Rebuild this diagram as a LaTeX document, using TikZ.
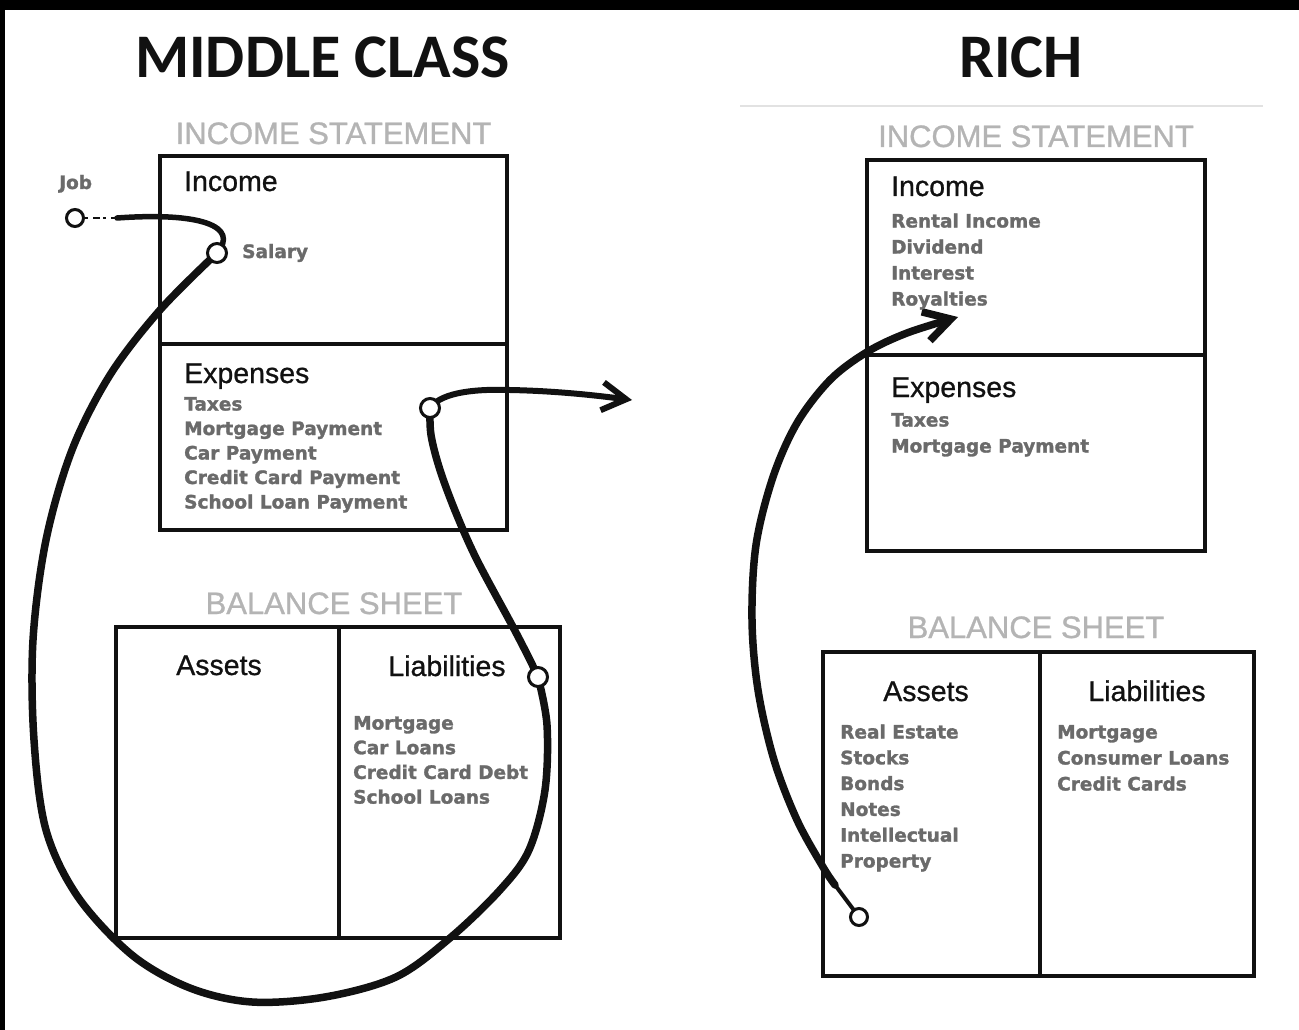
\documentclass[tikz,border=0pt]{standalone}
\usepackage{fontspec}
\setmainfont{Liberation Sans}
\newfontfamily\titlefont{Carlito}
\newfontfamily\itemfont[FakeBold=1.5]{DejaVu Sans Bold}
\newfontfamily\headfont[FakeBold=0.8]{Liberation Sans}
\newfontfamily\sheetfont[FakeBold=0.9]{Liberation Sans}
\usetikzlibrary{arrows.meta}
\definecolor{itemgray}{HTML}{6A6A6A}
\definecolor{headgray}{HTML}{B4B4B4}
\definecolor{rulegray}{HTML}{E2E2E2}
\definecolor{ink}{HTML}{111111}
\pgfdeclarelayer{bg}
\pgfsetlayers{bg,main}
\begin{document}
\begin{tikzpicture}[x=1pt,y=-1pt,
  box/.style={draw=ink, line width=3.5pt, rectangle, inner sep=0pt, outer sep=0pt},
  circ/.style={draw=ink, fill=white, circle, line width=3pt, minimum size=19pt, inner sep=0pt},
  bigtitle/.style={font=\titlefont\bfseries\fontsize{62}{62}\selectfont, text=ink, anchor=base, inner sep=0pt},
  sheet/.style={font=\sheetfont\fontsize{31}{31}\selectfont, text=headgray, anchor=base, inner sep=0pt},
  head/.style={font=\headfont\fontsize{28.5}{28.5}\selectfont, text=ink, inner sep=0pt},
  item/.style={font=\itemfont\fontsize{18.5}{18.5}\selectfont, text=itemgray, anchor=base west, inner sep=0pt},
  flow/.style={draw=ink, line width=7.5pt, line cap=round, line join=round}]
\useasboundingbox (0,0) rectangle (1299,1030);

% titles
\node[bigtitle] (tmid) at (322.5,78) {MIDDLE CLASS};
\node[bigtitle] (trich) at (1021,78) {RICH};
\draw[rulegray, line width=1.5pt] (740,106) -- (1263,106);

% ---------- middle class ----------
\node[sheet] (lis) at (333.5,144) {INCOME STATEMENT};
\node[box, minimum width=347pt, minimum height=188pt] (linc) at (333.5,250) {};
\node[box, minimum width=347pt, minimum height=186pt] (lexp) at (333.5,437) {};
\node[head, anchor=base west] (linch) at (184,191) {Income};
\node[head, anchor=base west] (lexph) at (184,383) {Expenses};
\foreach \t [count=\i from 0] in {Taxes, Mortgage Payment, Car Payment, Credit Card Payment, School Loan Payment}
  \node[item] (le\i) at (184,410.5+24.5*\i) {\t};

\node[sheet] (lbs) at (334,614) {BALANCE SHEET};
\node[box, minimum width=223pt, minimum height=311pt] (lass) at (227.5,782.5) {};
\node[box, minimum width=221pt, minimum height=311pt] (llia) at (449.5,782.5) {};
\node[head, anchor=base] (lassh) at (219,675) {Assets};
\node[head, anchor=base] (lliah) at (447,676) {Liabilities};
\foreach \t [count=\i from 0] in {Mortgage, Car Loans, Credit Card Debt, School Loans}
  \node[item] (ll\i) at (353,729.5+24.7*\i) {\t};

\node[item] (jobt) at (59,189) {Job};
\node[item] (salt) at (242,258) {Salary};
\node[circ, minimum size=17pt] (jb) at (75,218) {};
\node[circ] (sal) at (217,253) {};
\node[circ] (ex) at (430,408) {};
\node[circ] (li) at (538,677) {};
\coordinate (jt) at (117,218);

% ---------- rich ----------
\node[sheet] (ris) at (1036,147) {INCOME STATEMENT};
\node[box, minimum width=338pt, minimum height=195pt] (rinc) at (1036,257.5) {};
\node[box, minimum width=338pt, minimum height=196pt] (rexp) at (1036,453) {};
\node[head, anchor=base west] (rinch) at (891,196) {Income};
\foreach \t [count=\i from 0] in {Rental Income, Dividend, Interest, Royalties}
  \node[item] (ri\i) at (891,227.5+26*\i) {\t};
\node[head, anchor=base west] (rexph) at (891,397) {Expenses};
\foreach \t [count=\i from 0] in {Taxes, Mortgage Payment}
  \node[item] (re\i) at (891,426.5+26*\i) {\t};

\node[sheet] (rbs) at (1036,638) {BALANCE SHEET};
\node[box, minimum width=217pt, minimum height=324pt] (rass) at (931.5,814) {};
\node[box, minimum width=214pt, minimum height=324pt] (rlia) at (1147,814) {};
\node[head, anchor=base] (rassh) at (926,701) {Assets};
\node[head, anchor=base] (rliah) at (1147,701) {Liabilities};
\foreach \t [count=\i from 0] in {Real Estate, Stocks, Bonds, Notes, Intellectual, Property}
  \node[item] (ra\i) at (840,738.5+25.8*\i) {\t};
\foreach \t [count=\i from 0] in {Mortgage, Consumer Loans, Credit Cards}
  \node[item] (rl\i) at (1057,738.5+26*\i) {\t};
\node[circ, minimum size=17pt] (rc) at (859,917) {};

% ---------- background and flows ----------
\begin{pgfonlayer}{bg}
\fill[white] (0,0) rectangle (1299,1030);
\fill[black] (0,0) rectangle (1299,10);
\fill[black] (0,0) rectangle (5,1030);
\draw[ink, line width=1.5pt, dash pattern=on 3pt off 5pt on 7pt off 3pt] (jb.east) -- (jt);
\draw[flow, line width=5.5pt] (jt) .. controls (200,212) and (240,226) .. (sal.center);
\draw[flow] plot[smooth, tension=0.55] coordinates {(sal.center) (160,310) (110,375) (72,450) (46,540) (33,640) (34,740) (46,830) (78,897) (132,955) (190,988) (252,1002) (325,997) (396,977) (450,938) (500,890) (529,850) (545,790) (547,725) (li.center)};
\draw[flow] plot[smooth, tension=0.55] coordinates {(li.center) (530,660) (513,627) (477,560) (456,513) (440,470) (431,435) (ex.center)};
\draw[flow, line width=6pt, -{Straight Barb[length=24pt,width=28pt]}] (ex.center) .. controls (442,391) and (480,389) .. (510,390) .. controls (560,391) and (600,396) .. (632,400);
\draw[flow, line width=4pt] (rc.center) -- (835,885);
\draw[flow, -{Straight Barb[length=26pt,width=30pt]}] plot[smooth, tension=0.55] coordinates {(835,885) (823,867) (797,820) (774,760) (758,690) (752,620) (756,545) (773,477) (797,423) (830,380) (867,352) (907,333) (958,317)};
\end{pgfonlayer}
\end{tikzpicture}
\end{document}
